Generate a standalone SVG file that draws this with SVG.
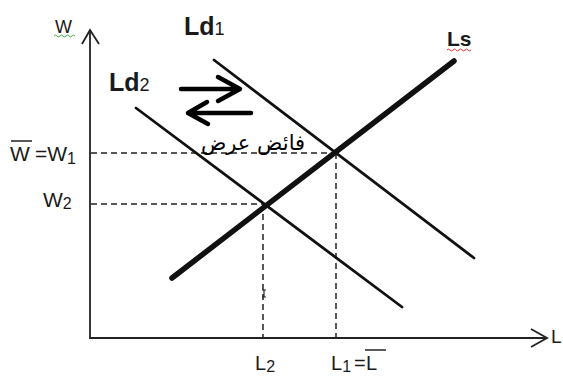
<svg xmlns="http://www.w3.org/2000/svg" width="563" height="376" viewBox="0 0 563 376">
<style>
.t{font-family:"Liberation Sans",Arial,sans-serif;fill:#1a1a1a}
.b{font-weight:bold}
.ax{stroke:#222;stroke-width:1.8;fill:none}
.dash{stroke:#222;stroke-width:1.5;stroke-dasharray:6,4;fill:none}
.ld{stroke:#111;stroke-width:2.8;stroke-linecap:round;fill:none}
.ls{stroke:#111;stroke-width:5.5;stroke-linecap:round;fill:none}
.arr{stroke:#000;stroke-width:4.5;stroke-linecap:round;stroke-linejoin:round;fill:none}
</style>
<rect width="563" height="376" fill="#fff"/>
<g id="connectors">
  <path class="ax" d="M90,30 V338 H547"/>
  <path class="ax" d="M82,44 L90,30 L99,44"/>
  <path class="ax" d="M531,329 L547,338 L531,347"/>
  <path class="dash" d="M91,153 H336 M336,153 V338"/>
  <path class="dash" d="M91,204 H263 M263,204 V338"/>
  <path stroke="#222" stroke-width="1.2" d="M262,290 h4 M262,297 h4 M264,290 v7"/>
</g>
<g id="Ld1">
  <line class="ld" x1="214" y1="60" x2="474" y2="258"/>
  <text class="t b" x="184" y="35" font-size="25">Ld<tspan font-weight="normal" font-size="18">1</tspan></text>
</g>
<g id="Ld2">
  <line class="ld" x1="136" y1="108" x2="402" y2="307"/>
  <text class="t b" x="109" y="91" font-size="25">Ld<tspan font-weight="normal" font-size="18">2</tspan></text>
</g>
<g id="Ls">
  <line class="ls" x1="172" y1="278" x2="454" y2="61"/>
  <text class="t b" x="447" y="46" font-size="21">Ls</text>
  <path d="M447,50 q1.5,-2 3,0 t3,0 t3,0 t3,0 t3,0 t3,0 t3,0 t3,0" stroke="#e33" stroke-width="1" fill="none"/>
</g>
<g id="shift-arrows">
  <path class="arr" d="M181,89 H239 M218,77 L240,89 L218,101"/>
  <path class="arr" d="M251,113 H189 M207,102 L188,113 L208,124"/>
</g>
<g id="surplus">
  <text x="253" y="150" font-size="21" text-anchor="middle" font-family="DejaVu Sans, sans-serif" fill="#000">فائض عرض</text>
</g>
<g id="labels">
  <text class="t" x="55" y="33" font-size="18">W</text>
  <path d="M54,36 q1.5,-2 3,0 t3,0 t3,0 t3,0 t3,0 t3,0 t3,0" stroke="#4a4" stroke-width="1" fill="none"/>
  <text class="t" x="10" y="161" font-size="21">W<tspan x="35">=W</tspan><tspan font-size="16" dy="3">1</tspan></text>
  <line x1="11" y1="141" x2="32" y2="141" stroke="#222" stroke-width="1.5"/>
  <text class="t" x="43" y="207" font-size="21">W<tspan font-size="16" dy="2">2</tspan></text>
  <text class="t" x="255" y="370" font-size="20">L<tspan font-size="16" dy="2">2</tspan></text>
  <text class="t" x="331" y="370" font-size="20">L<tspan font-size="16" dy="2">1</tspan><tspan x="354" dy="-2">=</tspan><tspan x="366">L</tspan></text>
  <line x1="365" y1="350" x2="386" y2="350" stroke="#222" stroke-width="1.5"/>
  <text class="t" x="551" y="343" font-size="19">L</text>
</g>
</svg>
